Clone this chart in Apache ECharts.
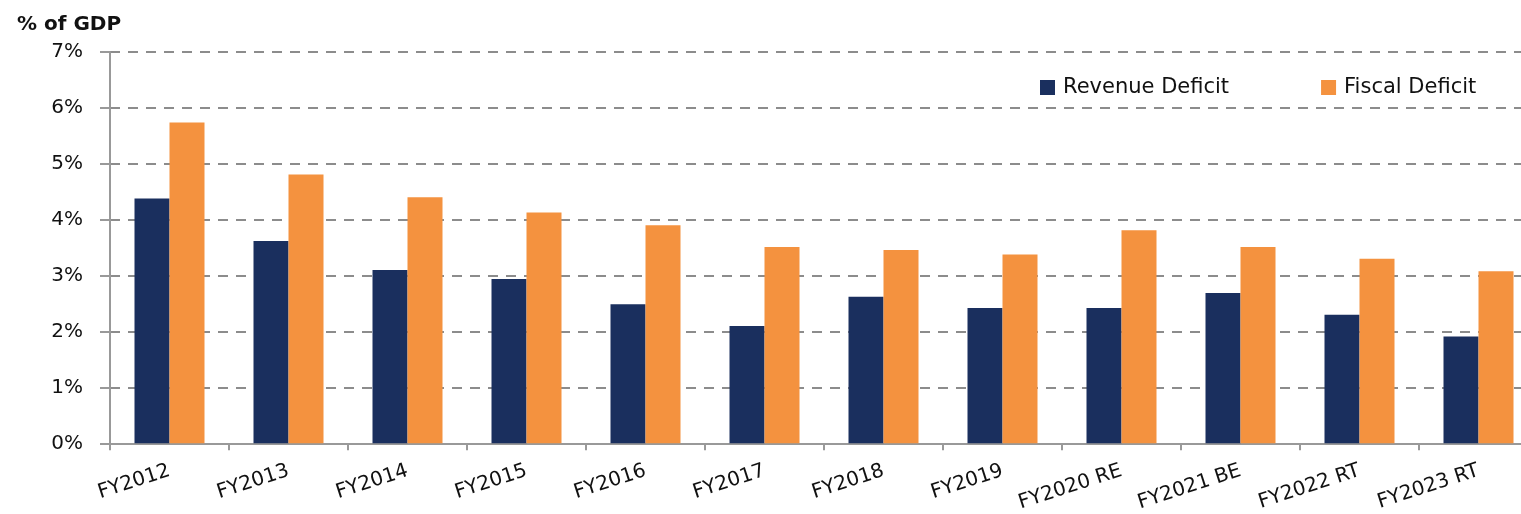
<!DOCTYPE html>
<html><head><meta charset="utf-8">
<script src="https://cdn.jsdelivr.net/npm/echarts@6/dist/echarts.min.js"></script>
<style>html,body{margin:0;padding:0;background:#fff;overflow:hidden;width:1521px;height:514px}#c{width:1540px;height:514px}</style>
</head><body><div id="c"></div>
<script>
const categories = ['FY2012','FY2013','FY2014','FY2015','FY2016','FY2017','FY2018','FY2019','FY2020 RE','FY2021 BE','FY2022 RT','FY2023 RT'];
const revenueDeficit = [4.38,3.62,3.10,2.94,2.49,2.10,2.62,2.42,2.42,2.69,2.30,1.91];
const fiscalDeficit = [5.74,4.81,4.40,4.13,3.90,3.51,3.46,3.38,3.81,3.51,3.30,3.08];
const yTicks = [0,1,2,3,4,5,6,7];
const font = 'DejaVu Sans';
const chart = echarts.init(document.getElementById('c'));
chart.setOption({
  animation:false,
  textStyle:{fontFamily:font},
  title:{text:'% of GDP',left:12,top:10,textStyle:{fontFamily:font,fontSize:20,fontWeight:'bold',color:'#111'}},
  legend:{top:72,left:1035,itemWidth:15,itemHeight:15,itemGap:92,icon:'rect',
    textStyle:{fontFamily:font,fontSize:21,color:'#111',padding:[0,0,0,3]}},
  grid:{left:110,top:52,width:1428,height:393,containLabel:false},
  xAxis:{type:'category',data:categories,
    axisLine:{lineStyle:{color:'#999',width:2}},
    axisTick:{show:true,length:7,lineStyle:{color:'#999',width:2}},
    axisLabel:{rotate:18,fontSize:20,color:'#111',margin:27,fontFamily:font}},
  yAxis:{type:'value',min:yTicks[0],max:yTicks[yTicks.length-1],interval:1,
    axisLine:{show:true,lineStyle:{color:'#999',width:2}},
    axisTick:{show:true,inside:false,length:10,lineStyle:{color:'#999',width:2}},
    axisLabel:{formatter:v=>v+'%',fontSize:20,color:'#111',margin:27,fontFamily:font},
    splitLine:{lineStyle:{color:'#8c8c8c',width:2,type:[10,8]}}},
  series:[
    {name:'Revenue Deficit',type:'bar',data:revenueDeficit,barWidth:35,barGap:'0%',itemStyle:{color:'#1a2f5e'}},
    {name:'Fiscal Deficit',type:'bar',data:fiscalDeficit,barWidth:35,itemStyle:{color:'#f4923f'}}
  ]
});
</script></body></html>
